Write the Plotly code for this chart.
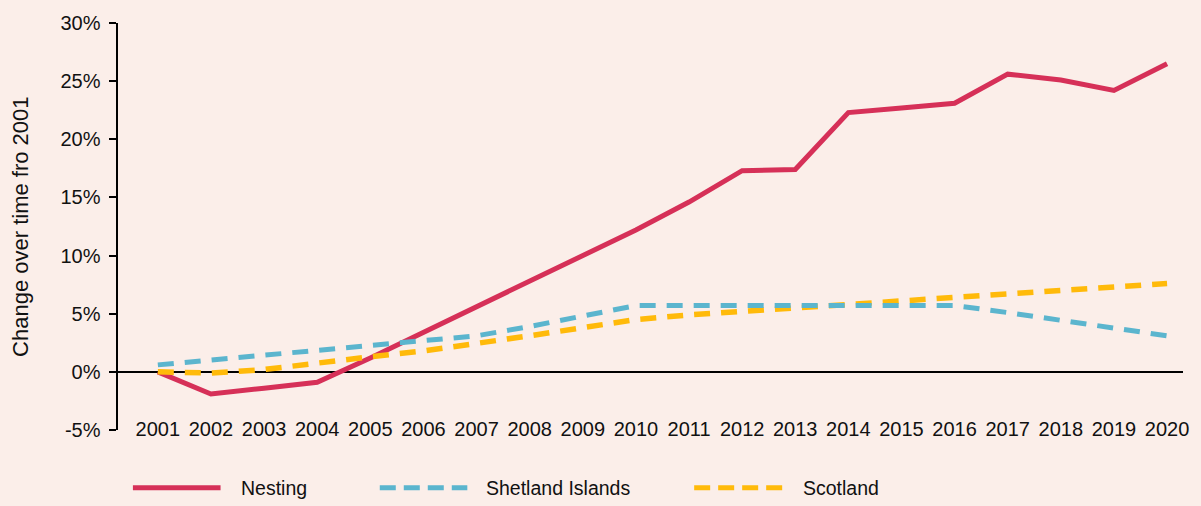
import plotly.graph_objects as go

years = list(range(2001, 2021))
nesting = [0.0, -1.9, -1.4, -0.9, 1.2, 3.4, 5.5, 7.7, 9.9, 12.2,
           14.6, 17.3, 17.4, 22.3, 22.7, 23.1, 25.6, 25.1, 24.2, 26.5]
shetland = [0.6, 1.0, 1.4, 1.8, 2.2, 2.6, 3.1, 3.9, 4.8, 5.7,
            5.7, 5.7, 5.7, 5.7, 5.7, 5.7, 5.1, 4.4, 3.8, 3.1]
scotland = [0.0, -0.1, 0.2, 0.8, 1.3, 1.8, 2.4, 3.1, 3.8, 4.5,
            4.9, 5.2, 5.5, 5.8, 6.1, 6.4, 6.7, 7.1, 7.4, 7.6]
series_names = ["Nesting", "Shetland Islands", "Scotland"]
y_ticks = [-5, 0, 5, 10, 15, 20, 25, 30]
y_tick_labels = ["-5%", "0%", "5%", "10%", "15%", "20%", "25%", "30%"]
y_title = "Change over time fro 2001"

RED = "#D63058"
BLUE = "#5BB5CE"
ORANGE = "#FFBA0A"
BG = "#FBEEE9"
FONT = "Liberation Sans, Arial, Helvetica, sans-serif"
TXT = "#111111"

fig = go.Figure()
fig.add_trace(go.Scatter(x=years, y=nesting, mode="lines", name=series_names[0],
                         line=dict(color=RED, width=5)))
fig.add_trace(go.Scatter(x=years, y=scotland, mode="lines", name=series_names[2],
                         line=dict(color=ORANGE, width=5.5, dash="16px,11px")))
fig.add_trace(go.Scatter(x=years, y=shetland, mode="lines", name=series_names[1],
                         line=dict(color=BLUE, width=5, dash="16px,11px")))

# manual legend (long swatches as in the reference)
legend_items = [
    (series_names[0], RED, "solid", 0.014, 0.0963, 0.114),
    (series_names[1], BLUE, "16px,8px", 0.2458, 0.328, 0.344),
    (series_names[2], ORANGE, "16px,8px", 0.541, 0.624, 0.641),
]
shapes = []
annotations = []
for name, col, dash, x0, x1, xt in legend_items:
    shapes.append(dict(type="line", xref="paper", yref="paper", x0=x0, x1=x1,
                       y0=-0.142, y1=-0.142, line=dict(color=col, width=5, dash=dash)))
    annotations.append(dict(xref="paper", yref="paper", x=xt, y=-0.142, text=name,
                            showarrow=False, xanchor="left", yanchor="middle",
                            font=dict(family=FONT, size=19.5, color=TXT)))
annotations.append(dict(xref="paper", yref="paper", x=-0.0916, y=0.5, text=y_title,
                        textangle=-90, showarrow=False, xanchor="center", yanchor="middle",
                        font=dict(family=FONT, size=22, color=TXT)))

fig.update_layout(
    width=1201, height=506,
    margin=dict(l=118, r=13, t=15, b=76),
    paper_bgcolor=BG, plot_bgcolor=BG,
    showlegend=False,
    font=dict(family=FONT, size=20, color=TXT),
    shapes=shapes, annotations=annotations,
    hovermode=False,
)
fig.update_xaxes(
    range=[2000.25, 2020.30], tickmode="array", tickvals=years,
    ticktext=[str(y) for y in years], showgrid=False, zeroline=False,
    showline=False, ticks="", ticklen=0, ticklabelstandoff=-15,
    tickfont=dict(family=FONT, size=20, color=TXT),
)
fig.update_yaxes(
    range=[-5, 30], tickmode="array", tickvals=y_ticks, ticktext=y_tick_labels,
    showgrid=False, zeroline=True, zerolinecolor="#000000", zerolinewidth=2.5,
    showline=True, linecolor="#000000", linewidth=2.5,
    ticks="outside", ticklen=7, tickwidth=2, tickcolor="#000000",
    ticklabelstandoff=4,
    tickfont=dict(family=FONT, size=20, color=TXT),
)

fig.write_html("out.html",
               config={"displayModeBar": False, "staticPlot": True},
               post_script="document.body.style.margin='0';document.body.style.background='%s';" % BG)
